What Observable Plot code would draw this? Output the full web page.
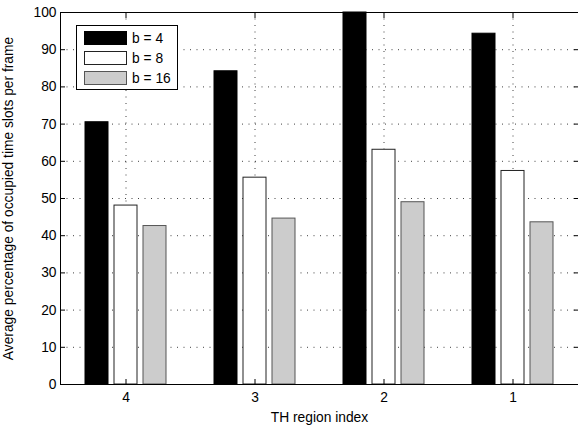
<!DOCTYPE html>
<html><head><meta charset="utf-8">
<script src="https://cdn.jsdelivr.net/npm/d3@7"></script>
<script src="https://cdn.jsdelivr.net/npm/@observablehq/plot@0.6"></script>
<style>
body{margin:0;background:#fff;}
#wrap{position:relative;width:578px;height:425px;font-family:"Liberation Sans",Arial,sans-serif;}
#legend{position:absolute;left:76px;top:25px;width:100px;height:63px;border:1px solid #000;background:#fff;font-size:13.8px;color:#000;}
.row{position:absolute;left:7px;height:14px;display:flex;align-items:center;white-space:nowrap;}
.sw{width:41px;height:12px;border:1px solid #000;margin-right:5px;box-sizing:content-box;}
</style></head><body><div id="wrap"></div>
<script>
const regions = ["4", "3", "2", "1"];
const seriesNames = ["b = 4", "b = 8", "b = 16"];
const b4 = [70.5, 84.2, 100, 94.3];
const b8 = [48.1, 55.6, 63.1, 57.4];
const b16 = [42.6, 44.6, 49.0, 43.6];
const yTicks = [0, 10, 20, 30, 40, 50, 60, 70, 80, 90, 100];
const fills = ["#000000", "#ffffff", "#cccccc"];
const strokes = ["#000000", "#222222", "#555555"];
const offsets = [-29, 0, 29];

const seriesValues = [b4, b8, b16];
const tables = seriesValues.map((vals, s) => regions.map((r, i) => ({region: r, value: vals[i], series: seriesNames[s]})));

const grid = {stroke: "#000", strokeOpacity: 0.75, strokeDasharray: "1,5.5", strokeWidth: 1};

const plot = Plot.plot({
  width: 578, height: 425,
  marginLeft: 60, marginRight: 0, marginTop: 12, marginBottom: 41,
  style: {fontFamily: "'Liberation Sans', Arial, sans-serif", fontSize: "13.8px", color: "#000", background: "#fff"},
  x: {type: "band", domain: regions, padding: 0},
  y: {domain: [0, 100]},
  marks: [
    Plot.gridY(yTicks, grid),
    Plot.gridX(regions, grid),
    ...tables.map((t, s) => Plot.barY(t, {x: "region", y: "value", fill: fills[s], stroke: strokes[s], strokeWidth: 1, insetLeft: 53, insetRight: 53, dx: offsets[s]})),
    Plot.frame({stroke: "#000", strokeWidth: 1}),
    Plot.axisY(yTicks, {anchor: "left", tickSize: 0, tickPadding: 4, label: "Average percentage of occupied time slots per frame", labelAnchor: "center", labelOffset: 57, labelArrow: "none"}),
    Plot.axisY(yTicks, {anchor: "left", tickSize: -5, text: null, label: null}),
    Plot.axisY(yTicks, {anchor: "right", tickSize: -5, text: null, label: null}),
    Plot.axisX(regions, {anchor: "bottom", tickSize: 0, tickPadding: 8, label: "TH region index", labelOffset: 37, labelArrow: "none"}),
    Plot.axisX(regions, {anchor: "bottom", tickSize: -5, text: null, label: null}),
    Plot.axisX(regions, {anchor: "top", tickSize: -5, text: null, label: null})
  ]
});
const wrap = document.getElementById("wrap");
wrap.appendChild(plot);

const legend = document.createElement("div");
legend.id = "legend";
seriesNames.forEach((name, s) => {
  const row = document.createElement("div");
  row.className = "row";
  row.style.top = (5 + 20 * s) + "px";
  const sw = document.createElement("div");
  sw.className = "sw";
  sw.style.background = fills[s];
  sw.style.borderColor = strokes[s];
  const tx = document.createElement("span");
  tx.textContent = name;
  row.appendChild(sw);
  row.appendChild(tx);
  legend.appendChild(row);
});
wrap.appendChild(legend);
</script>
</body></html>
